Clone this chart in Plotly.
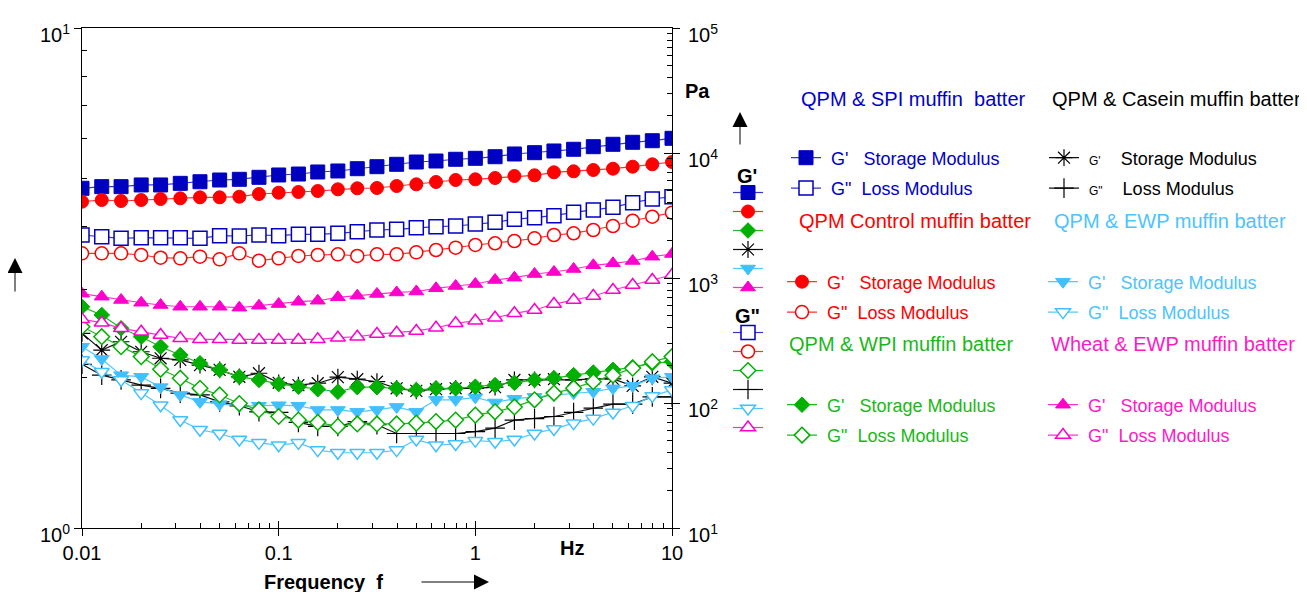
import plotly.graph_objects as go

# ---------------- data (frequency sweep, Pa) ----------------
freq = [0.01, 0.0126, 0.0158, 0.02, 0.0251, 0.0316, 0.0398, 0.0501, 0.0631, 0.0794,
        0.1, 0.126, 0.158, 0.2, 0.251, 0.316, 0.398, 0.501, 0.631, 0.794,
        1, 1.26, 1.58, 2, 2.51, 3.16, 3.98, 5.01, 6.31, 7.94, 10]

spi_g1 = [5220, 5380, 5380, 5550, 5550, 5720, 5890, 6080, 6160, 6390, 6670, 6790, 7050, 7180, 7490, 7770,
          8120, 8470, 8630, 8910, 9070, 9340, 9820, 10060, 10380, 10710, 11230, 11740, 12180, 12540, 13110]
spi_g2 = [2208, 2140, 2078, 2101, 2101, 2101, 2078, 2180, 2168, 2208, 2180, 2237, 2237, 2279, 2347, 2421,
          2452, 2525, 2573, 2606, 2704, 2790, 2949, 3037, 3151, 3354, 3499, 3677, 4003, 4285, 4470]
ctrl_g1 = [4078, 4207, 4130, 4207, 4285, 4341, 4421, 4421, 4470, 4699, 4813, 4875, 4966, 5124, 5220, 5248,
           5445, 5618, 5861, 6081, 6160, 6310, 6546, 6631, 7008, 7139, 7311, 7489, 7770, 8121, 8472]
ctrl_g2 = [1576, 1576, 1576, 1528, 1453, 1437, 1481, 1411, 1576, 1375, 1437, 1500, 1528, 1547, 1500, 1547,
           1547, 1605, 1675, 1748, 1837, 1896, 1977, 2078, 2208, 2279, 2421, 2606, 2873, 3093, 3330]
wpi_g1 = [589, 506, 396, 339, 282, 242, 208, 184, 162, 153, 142, 135, 129, 123, 134, 134,
          131, 127, 131, 131, 135, 139, 145, 153, 158, 167, 175, 184, 193, 208, 214]
wpi_g2 = [408, 339, 282, 235, 186, 158, 131, 116, 99, 88, 78, 73, 70, 65, 68, 68,
          68, 69, 71, 73, 80, 85, 93, 106, 120, 131, 148, 167, 190, 214, 235]
cas_g1 = [361, 265, 309, 257, 228, 221, 201, 184, 162, 173, 145, 139, 144, 161, 155, 148,
          131, 125, 129, 131, 131, 134, 153, 153, 155, 153, 156, 156, 137, 162, 144]
cas_g2 = [204, 167, 153, 139, 131, 120, 116, 102, 95, 85, 84, 70, 65, 65, 71, 67,
          57, 57, 57, 57, 59, 63, 73, 75, 78, 84, 91, 98, 98, 112, 112]
ewp_g1 = [282, 225, 167, 162, 134, 116, 102, 98, 95, 95, 96, 95, 88, 88, 85, 88,
          93, 85, 106, 106, 111, 101, 108, 112, 116, 120, 123, 131, 137, 158, 162]
ewp_g2 = [221, 178, 153, 120, 96, 73, 61, 57, 51, 48, 46, 48, 42, 40, 40, 40,
          42, 51, 46, 47, 50, 49, 51, 57, 62, 69, 75, 84, 95, 114, 127]
wheat_g1 = [749, 709, 667, 634, 608, 589, 589, 589, 579, 600, 619, 646, 658, 701, 722, 745,
            766, 780, 827, 863, 895, 964, 1006, 1076, 1117, 1180, 1264, 1311, 1368, 1481, 1556]
wheat_g2 = [467, 439, 396, 372, 350, 329, 323, 323, 319, 319, 319, 319, 323, 333, 339, 356,
            365, 377, 400, 434, 455, 481, 522, 555, 619, 667, 718, 802, 879, 964, 1057]

x_tick_vals = [0.01, 0.1, 1, 10]
x_tick_text = ["0.01", "0.1", "1", "10"]
yl_tick_vals = [1, 10]
yl_tick_text = ["10<sup>0</sup>", "10<sup>1</sup>"]
yr_tick_vals = [10, 100, 1000, 10000, 100000]
yr_tick_text = ["10<sup>1</sup>", "10<sup>2</sup>", "10<sup>3</sup>", "10<sup>4</sup>", "10<sup>5</sup>"]

# ---------------- geometry helpers (screen px -> figure coords) ----------------
W, H = 1307, 592
OFF = 8                      # page body margin
L, R, T, B = 74, 643, 20, 72
PW, PH = W - L - R, H - T - B
FONT = "Liberation Sans, Arial, sans-serif"
NB = "\u00a0"


def px(x):
    return (x - OFF - L) / PW


def py(y):
    return (H - B - (y - OFF)) / PH


BLUE, RED, GREEN, BLACK, CYAN, MAG = "#0000C0", "#FF0000", "#00B000", "#000000", "#40C0FF", "#FF00CC"
LINE = {BLUE: "#3535D0", RED: "#FF3030", GREEN: "#20B820", BLACK: "#111111", CYAN: "#50C8FF", MAG: "#FF30D0"}
TXT = {BLUE: "#0000CC", RED: "#FF0000", GREEN: "#19B819", BLACK: "#000000", CYAN: "#4DC3FF", MAG: "#FF19C6"}

blocks = [
    dict(key="spi", title="QPM & SPI muffin" + NB + NB + "batter", c=BLUE, g1=spi_g1, g2=spi_g2,
         s1="square", s2="square", leg="legend", lx=786, ly=173, tx=799, ty=99, small=False),
    dict(key="cas", title="QPM & Casein muffin batter", c=BLACK, g1=cas_g1, g2=cas_g2,
         s1="asterisk-open", s2="cross-thin-open", leg="legend2", lx=1044, ly=173, tx=1050, ty=99, small=True),
    dict(key="ctrl", title="QPM Control muffin batter", c=RED, g1=ctrl_g1, g2=ctrl_g2,
         s1="circle", s2="circle", leg="legend3", lx=782, ly=297, tx=797, ty=221, small=False),
    dict(key="ewp", title="QPM & EWP muffin batter", c=CYAN, g1=ewp_g1, g2=ewp_g2,
         s1="triangle-down", s2="triangle-down", leg="legend4", lx=1043, ly=297, tx=1052, ty=221, small=False),
    dict(key="wpi", title="QPM & WPI muffin batter", c=GREEN, g1=wpi_g1, g2=wpi_g2,
         s1="diamond", s2="diamond", leg="legend5", lx=782, ly=420, tx=787, ty=344, small=False),
    dict(key="wheat", title="Wheat & EWP muffin batter", c=MAG, g1=wheat_g1, g2=wheat_g2,
         s1="triangle-up", s2="triangle-up", leg="legend6", lx=1043, ly=420, tx=1049, ty=344, small=False),
]
key_order = ["spi", "ctrl", "wpi", "cas", "ewp", "wheat"]

SIZES = {"square": 14, "circle": 13, "diamond": 12, "triangle-down": 13, "triangle-up": 13,
         "asterisk-open": 14, "cross-thin-open": 14}


def marker(sym, c, filled):
    if sym.endswith("-open"):
        return dict(symbol=sym, size=SIZES[sym], color=c, line=dict(color=c, width=1.2))
    if filled:
        return dict(symbol=sym, size=SIZES[sym], color=c, line=dict(color=c, width=1))
    return dict(symbol=sym, size=SIZES[sym], color="white", line=dict(color=c, width=1.5))


fig = go.Figure()

for i, b in enumerate(blocks):
    if b["small"]:
        n1 = NB + "<span style='font-size:12px'>G'</span>" + NB * 4 + "Storage Modulus"
        n2 = NB + "<span style='font-size:12px'>G\"</span>" + NB * 4 + "Loss Modulus"
    else:
        n1 = NB + "G'" + NB * 3 + "Storage Modulus"
        n2 = NB + "G\"" + NB * 2 + "Loss Modulus"
    for vals, sym, filled, nm, grp in ((b["g1"], b["s1"], True, n1, "a"), (b["g2"], b["s2"], False, n2, "b")):
        fig.add_trace(go.Scatter(
            x=freq, y=vals, yaxis="y2", mode="lines+markers", name=nm,
            line=dict(color=LINE[b["c"]], width=1.2), marker=marker(sym, b["c"], filled),
            legend=b["leg"], legendgroup=f"{i}{grp}", showlegend=True, hoverinfo="x+y"))

# G' / G'' key columns next to the right axis (legend-only entries)
bmap = {b["key"]: b for b in blocks}
for col, filled, leg in (("s1", True, "legend7"), ("s2", False, "legend8")):
    for k in key_order:
        b = bmap[k]
        fig.add_trace(go.Scatter(
            x=[None], y=[None], yaxis="y2", mode="lines+markers", name=" ",
            line=dict(color=LINE[b["c"]], width=1.2), marker=marker(b[col], b["c"], filled),
            legend=leg, showlegend=True, hoverinfo="skip"))

# invisible helpers so overlay axes render
fig.add_trace(go.Scatter(x=[None], y=[None], showlegend=False, hoverinfo="skip"))
fig.add_trace(go.Scatter(x=[None], y=[None], xaxis="x2", yaxis="y3", showlegend=False, hoverinfo="skip"))

minor_x = [m * 10 ** e for e in (-2, -1, 0) for m in range(2, 10)]
minor_yl = [m for m in range(2, 10)]
minor_yr = [m * 10 ** e for e in (1, 2, 3, 4) for m in range(2, 10)]

axis_common = dict(type="log", showgrid=False, zeroline=False, linecolor="black", linewidth=1,
                   tickcolor="black", tickwidth=1, tickfont=dict(family=FONT, size=20, color="black"))

fig.update_layout(
    width=W, height=H, paper_bgcolor="white", plot_bgcolor="white",
    margin=dict(l=L, r=R, t=T, b=B, pad=0, autoexpand=False),
    font=dict(family=FONT, color="black"),
    xaxis=dict(range=[-2, 1], tickmode="array", tickvals=x_tick_vals, ticktext=x_tick_text,
               ticks="outside", ticklen=7, showline=True, mirror=True, anchor="y",
               minor=dict(tickmode="array", tickvals=minor_x, ticks="inside", ticklen=5, tickcolor="black"),
               **axis_common),
    xaxis2=dict(range=[-2, 1], overlaying="x", anchor="y", side="bottom", tickmode="array",
                tickvals=x_tick_vals, ticks="inside", ticklen=7, showticklabels=False, showline=False,
                type="log", showgrid=False, zeroline=False, tickcolor="black"),
    yaxis=dict(range=[0, 1], tickmode="array", tickvals=yl_tick_vals, ticktext=yl_tick_text,
               ticks="outside", ticklen=7, showline=True, side="left", anchor="x", ticklabelshift=7,
               minor=dict(tickmode="array", tickvals=minor_yl, ticks="inside", ticklen=5, tickcolor="black"),
               **axis_common),
    yaxis2=dict(range=[1, 5], overlaying="y", side="right", anchor="x", tickmode="array",
                tickvals=yr_tick_vals, ticktext=yr_tick_text, ticks="outside", ticklen=7,
                showline=True, ticklabelshift=7, ticklabelstandoff=4,
                minor=dict(tickmode="array", tickvals=minor_yr, ticks="inside", ticklen=5, tickcolor="black"),
                **axis_common),
    yaxis3=dict(range=[1, 5], overlaying="y", side="right", anchor="x", tickmode="array",
                tickvals=yr_tick_vals, ticks="inside", ticklen=8, showticklabels=False, showline=False,
                type="log", showgrid=False, zeroline=False, tickcolor="black"),
)

# legends (container coordinates)
legend_layout = {}
for b in blocks:
    legend_layout[b["leg"]] = dict(
        xref="container", yref="container", x=(b["lx"] - OFF) / W, y=1 - (b["ly"] - OFF) / H,
        xanchor="left", yanchor="middle", bgcolor="rgba(0,0,0,0)", borderwidth=0,
        traceorder="grouped", tracegroupgap=4,
        font=dict(family=FONT, size=18, color=TXT[b["c"]]))
for leg, cy in (("legend7", 240), ("legend8", 380)):
    legend_layout[leg] = dict(
        xref="container", yref="container", x=(728 - OFF) / W, y=1 - (cy - OFF) / H,
        xanchor="left", yanchor="middle", bgcolor="rgba(0,0,0,0)", borderwidth=0,
        traceorder="normal", font=dict(family=FONT, size=10, color="black"))
fig.update_layout(**legend_layout)

ann = []
for b in blocks:
    ann.append(dict(x=px(b["tx"]), y=py(b["ty"]), xref="paper", yref="paper", text=b["title"],
                    showarrow=False, xanchor="left", yanchor="middle",
                    font=dict(family=FONT, size=20, color=TXT[b["c"]])))
texts = [
    ("<b>Frequency" + NB + NB + "f</b>", 323, 582),
    ("<b>Hz</b>", 572, 548),
    ("<b>Pa</b>", 697, 91),
    ("<b>G'</b>", 747, 176),
    ("<b>G\"</b>", 747, 316),
]
for t, x, y in texts:
    ann.append(dict(x=px(x), y=py(y), xref="paper", yref="paper", text=t, showarrow=False,
                    xanchor="center", yanchor="middle", font=dict(family=FONT, size=20, color="black")))
# arrows
for tipx, tipy, ax, ay in ((489, 582, -69, 0), (740, 112, 0, 34), (15, 258, 0, 35)):
    ann.append(dict(x=px(tipx), y=py(tipy), xref="paper", yref="paper", text="", showarrow=True,
                    ax=ax, ay=ay, arrowhead=2, arrowsize=3, arrowwidth=1, arrowcolor="black",
                    standoff=0, startstandoff=0))
fig.update_layout(annotations=ann)

fig.write_html("out.html")
